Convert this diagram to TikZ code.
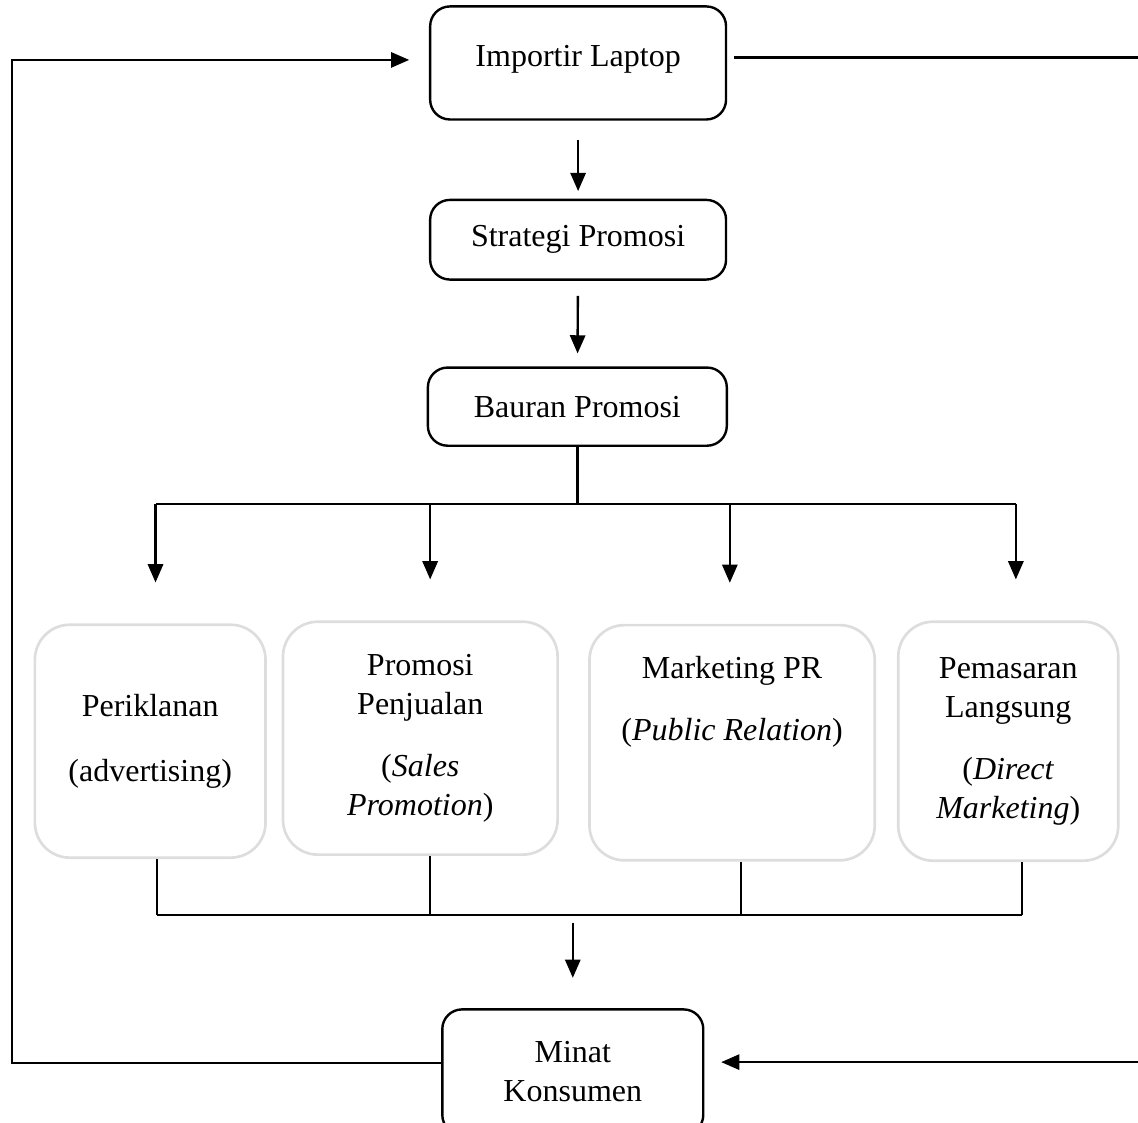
\documentclass[tikz,border=0pt]{standalone}
\usepackage{fontspec}
\setmainfont{Liberation Serif}
\usetikzlibrary{arrows.meta}
\definecolor{boxgray}{RGB}{221,221,221}

\begin{document}
\begin{tikzpicture}[
    font=\fontsize{12}{14.6}\selectfont,
    mainbox/.style={draw,line width=0.9pt,rounded corners=0.26cm,align=center},
    subbox/.style={draw=boxgray,line width=1pt,rounded corners=0.46cm,align=center},
    link/.style={line width=0.9pt},
    arr/.style={line width=0.9pt,-{Triangle[length=2.4mm,width=2mm]}}]
    \useasboundingbox (0,0) rectangle (15.0,-14.79);
    % alur utama
    \node[mainbox,minimum width=3.9cm,minimum height=1.49cm,text depth=0.19cm] (importir) at (7.62,-0.83) {Importir Laptop};
    \node[mainbox,minimum width=3.9cm,minimum height=1.05cm] (strategi) at (7.62,-3.16) {Strategi Promosi};
    \node[mainbox,minimum width=3.94cm,minimum height=1.03cm] (bauran) at (7.61,-5.36) {Bauran Promosi};
    \node[mainbox,minimum width=3.44cm,minimum height=1.65cm] (minat) at (7.55,-14.13) {Minat\\Konsumen};
    % bauran promosi
    \node[subbox,minimum width=3.04cm,minimum height=3.07cm] (per) at (1.98,-9.77) {Periklanan\\[10pt](advertising)};
    \node[subbox,minimum width=3.62cm,minimum height=3.07cm] (pro) at (5.54,-9.73) {Promosi\\Penjualan\\[8.7pt](\textit{Sales}\\\textit{Promotion})};
    \node[subbox,minimum width=3.76cm,minimum height=3.10cm] (mpr) at (9.65,-9.79) {Marketing PR\\[8.5pt](\textit{Public Relation})\\[0.65cm]\mbox{}};
    \node[subbox,minimum width=2.9cm,minimum height=3.15cm] (pem) at (13.29,-9.77) {Pemasaran\\Langsung\\[8.7pt](\textit{Direct}\\\textit{Marketing})};
    \draw[arr,shorten <=0.26cm,shorten >=0.1cm] (importir) -- (strategi);
    \draw[arr,shorten <=0.2cm,shorten >=0.17cm] (strategi) -- (bauran);
    \draw[link] (bauran.south) -- ++(0,-0.75) coordinate (bus);
    \draw[link] ([xshift=0.07cm]per.north |- bus) -- ([xshift=0.1cm]pem.north |- bus);
    \foreach \n/\dx in {per/0.07,pro/0.13,mpr/-0.03,pem/0.1}
      \draw[arr,shorten >=0.54cm] ([xshift=\dx cm]\n.north |- bus) -- ([xshift=\dx cm]\n.north);
    \coordinate (bus2) at (0,-12.06);
    \foreach \n/\dx in {per/0.09,pro/0.13,mpr/0.12,pem/0.18}
      \draw[link] ([xshift=\dx cm]\n.south) -- ([xshift=\dx cm]\n.south |- bus2);
    \draw[link] ([xshift=0.09cm]per.south |- bus2) -- ([xshift=0.18cm]pem.south |- bus2);
    \draw[arr,shorten <=0.1cm,shorten >=0.4cm] (minat.north |- bus2) -- (minat.north);
    % umpan balik
    \coordinate (kiri) at (0.16,0);
    \coordinate (kanan) at (15.4,0);
    \draw[arr,shorten >=0.26cm] ([yshift=0.12cm]minat.west) -| ([yshift=0.04cm]kiri |- importir.west) -- ([yshift=0.04cm]importir.west);
    \draw[arr,shorten <=0.09cm,shorten >=0.22cm] ([yshift=0.07cm]importir.east) -| ([yshift=0.13cm]kanan |- minat.east) -- ([yshift=0.13cm]minat.east);
\end{tikzpicture}
\end{document}
